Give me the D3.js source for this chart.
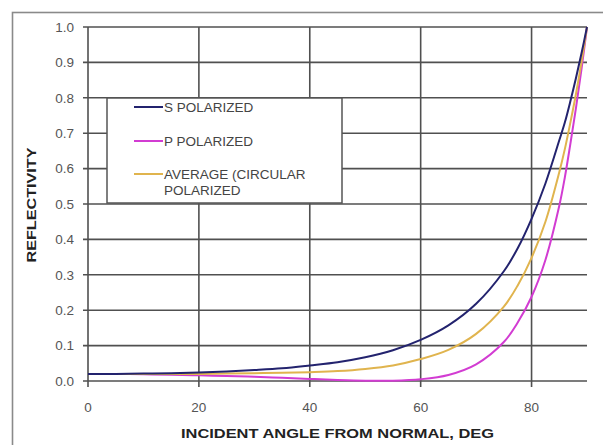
<!DOCTYPE html>
<html>
<head>
<meta charset="utf-8">
<script src="https://cdn.jsdelivr.net/npm/d3@7"></script>
<style>
  html, body { margin: 0; padding: 0; background: #fff; }
  svg { display: block; font-family: "Liberation Sans", Arial, sans-serif; }
</style>
</head>
<body>
<svg id="chart" width="603" height="445"></svg>
<script>
// ---- data ----
const angles = [0, 5, 10, 15, 20, 25, 30, 35, 40, 45, 50, 55, 60, 65, 70, 75, 77.5, 80, 82.5, 85, 86, 87, 88, 89, 90];
const sPolarized = [0.020, 0.020, 0.021, 0.022, 0.024, 0.027, 0.031, 0.036, 0.044, 0.053, 0.067, 0.087, 0.116, 0.157, 0.218, 0.310, 0.375, 0.458, 0.558, 0.680, 0.730, 0.790, 0.855, 0.925, 1.0];
const pPolarized = [0.020, 0.020, 0.019, 0.018, 0.016, 0.014, 0.012, 0.009, 0.006, 0.003, 0.001, 0.001, 0.005, 0.017, 0.047, 0.110, 0.165, 0.238, 0.342, 0.495, 0.575, 0.670, 0.770, 0.880, 1.0];
const average = [0.020, 0.020, 0.020, 0.020, 0.020, 0.021, 0.022, 0.023, 0.025, 0.028, 0.034, 0.044, 0.062, 0.088, 0.133, 0.210, 0.270, 0.348, 0.450, 0.590, 0.655, 0.730, 0.810, 0.900, 1.0];
const seriesNames = ["S POLARIZED", "P POLARIZED", "AVERAGE (CIRCULAR", "POLARIZED"];
const xTicks = [0, 20, 40, 60, 80];
const yTicks = [0.0, 0.1, 0.2, 0.3, 0.4, 0.5, 0.6, 0.7, 0.8, 0.9, 1.0];
const xTitle = "INCIDENT ANGLE FROM NORMAL, DEG";
const yTitle = "REFLECTIVITY";

// ---- layout ----
const svg = d3.select("#chart");
const pLeft = 88, pRight = 587, pTop = 27, pBottom = 381;
const x = d3.scaleLinear().domain([0, 90]).range([pLeft, pRight]);
const y = d3.scaleLinear().domain([0, 1]).range([pBottom, pTop]);

// outer frame (cropped at right/bottom like the reference)
svg.append("rect").attr("x", 12.5).attr("y", 12.5).attr("width", 620).attr("height", 460)
  .attr("fill", "none").attr("stroke", "#8a8a8a").attr("stroke-width", 1.6);

const gridColor = "#505050";

// horizontal gridlines + y ticks
svg.append("g").selectAll("line").data(yTicks).join("line")
  .attr("x1", pLeft - 5).attr("x2", pRight)
  .attr("y1", d => y(d)).attr("y2", d => y(d))
  .attr("stroke", gridColor).attr("stroke-width", 1.6);

// vertical gridlines + x ticks
svg.append("g").selectAll("line").data(xTicks).join("line")
  .attr("x1", d => x(d)).attr("x2", d => x(d))
  .attr("y1", pTop).attr("y2", pBottom + 6)
  .attr("stroke", gridColor).attr("stroke-width", 1.6);

// y tick labels
svg.append("g").selectAll("text").data(yTicks).join("text")
  .attr("x", 74).attr("y", d => y(d)).attr("dy", "0.36em")
  .attr("text-anchor", "end").attr("font-size", 13.5).attr("fill", "#555")
  .text(d => d.toFixed(1));

// x tick labels
svg.append("g").selectAll("text").data(xTicks).join("text")
  .attr("x", d => x(d)).attr("y", 407).attr("dy", "0.36em")
  .attr("text-anchor", "middle").attr("font-size", 13.5).attr("fill", "#555")
  .text(d => d);

// axis titles
svg.append("text").attr("x", (pLeft + pRight) / 2).attr("y", 438)
  .attr("text-anchor", "middle").attr("font-size", 13).attr("font-weight", "bold")
  .attr("fill", "#222").attr("textLength", 313).attr("lengthAdjust", "spacingAndGlyphs")
  .text(xTitle);
svg.append("text").attr("transform", "translate(36,205) rotate(-90)")
  .attr("text-anchor", "middle").attr("font-size", 12.5).attr("font-weight", "bold")
  .attr("fill", "#222").attr("textLength", 115).attr("lengthAdjust", "spacingAndGlyphs")
  .text(yTitle);

// series
const colors = { s: "#23236e", p: "#d23cd2", avg: "#e0b44e" };
const line = d3.line().x(d => x(d[0])).y(d => y(d[1])).curve(d3.curveCatmullRom.alpha(0.5));
const series = [
  { key: "p", vals: pPolarized },
  { key: "avg", vals: average },
  { key: "s", vals: sPolarized }
];
svg.append("g").selectAll("path").data(series).join("path")
  .attr("d", s => line(angles.map((a, i) => [a, s.vals[i]])))
  .attr("fill", "none").attr("stroke", s => colors[s.key]).attr("stroke-width", 2);

// legend
const lg = svg.append("g");
lg.append("rect").attr("x", 107).attr("y", 98).attr("width", 235).attr("height", 105)
  .attr("fill", "#fff").attr("stroke", "#555").attr("stroke-width", 1.5);
const entries = [
  { color: colors.s, y: 107, lines: [seriesNames[0]] },
  { color: colors.p, y: 141, lines: [seriesNames[1]] },
  { color: colors.avg, y: 174, lines: [seriesNames[2], seriesNames[3]] }
];
entries.forEach(e => {
  lg.append("line").attr("x1", 134).attr("x2", 163).attr("y1", e.y).attr("y2", e.y)
    .attr("stroke", e.color).attr("stroke-width", 2);
  e.lines.forEach((t, i) => {
    lg.append("text").attr("x", 164).attr("y", e.y + i * 16).attr("dy", "0.36em")
      .attr("font-size", 13.5).attr("fill", "#444").text(t);
  });
});
</script>
</body>
</html>
